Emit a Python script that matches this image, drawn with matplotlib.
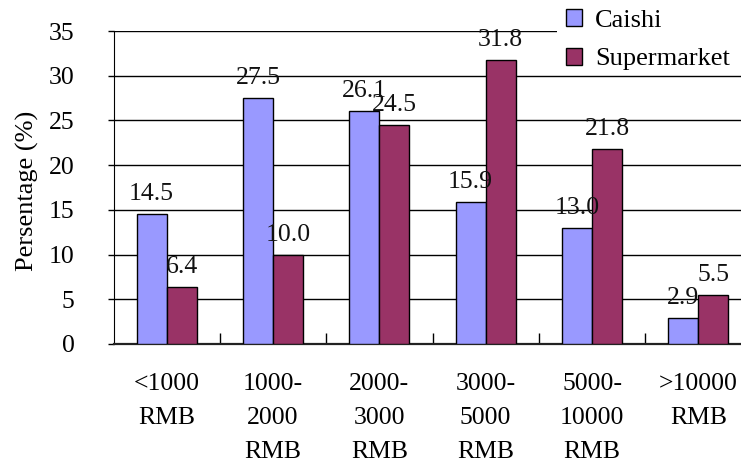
import matplotlib
matplotlib.use("Agg")
import matplotlib.pyplot as plt
import numpy as np
from matplotlib.patches import Patch, Rectangle

plt.rcParams['font.family'] = ['Liberation Serif', 'DejaVu Serif']

# Monthly income brackets and share of shoppers (%)
categories = ["<1000\nRMB", "1000-\n2000\nRMB", "2000-\n3000\nRMB",
              "3000-\n5000\nRMB", "5000-\n10000\nRMB", ">10000\nRMB"]
caishi = [14.5, 27.5, 26.1, 15.9, 13.0, 2.9]
supermarket = [6.4, 10.0, 24.5, 31.8, 21.8, 5.5]
series_names = ["Caishi", "Supermarket"]
y_ticks = [0, 5, 10, 15, 20, 25, 30, 35]

col_caishi = "#9999FF"
col_super = "#993366"
fs = 18.5

W, H = 741, 462
fig = plt.figure(figsize=(W / 100, H / 100), dpi=100)
left, right, top, bottom = 113.5, 751.5, 31, 344
ax = fig.add_axes([left / W, (H - bottom) / H, (right - left) / W, (bottom - top) / H])

x = np.arange(len(categories))
bw = 0.283
b1 = ax.bar(x - bw / 2, caishi, bw, color=col_caishi, edgecolor="black", linewidth=1, zorder=3)
b2 = ax.bar(x + bw / 2, supermarket, bw, color=col_super, edgecolor="black", linewidth=1, zorder=3)

for bars, vals in ((b1, caishi), (b2, supermarket)):
    for rect, v in zip(bars, vals):
        ax.annotate(f"{v:.1f}", (rect.get_x() + rect.get_width() / 2, v),
                    xytext=(0, 10), textcoords="offset points",
                    ha="center", va="baseline", fontsize=fs, color="#111111", zorder=5)

ax.set_xlim(-0.5, len(categories) - 0.5)
ax.set_ylim(0, 35)
ax.set_yticks(y_ticks)
ax.set_yticklabels([str(t) for t in y_ticks], fontsize=fs)
ax.tick_params(axis="y", direction="out", length=4, width=1, pad=24)

ax.set_xticks(x)
ax.set_xticklabels(categories, fontsize=fs, linespacing=1.7)
ax.tick_params(axis="x", which="major", length=0, pad=21)
ax.set_xticks(np.arange(len(categories)) + 0.5, minor=True)
ax.tick_params(axis="x", which="minor", direction="in", length=8, width=1, color="black")

ax.yaxis.grid(True, color="black", linewidth=1, zorder=0)
ax.set_axisbelow(True)
for s in ("top", "right"):
    ax.spines[s].set_visible(False)
ax.spines["left"].set_color("black")
ax.spines["bottom"].set_color("#222222")
ax.spines["bottom"].set_linewidth(1.6)

ax.set_ylabel("Persentage (%)", fontsize=fs + 0.5)
ax.yaxis.set_label_coords(-74 / (right - left), 0.49)

# white legend panel in the top-right corner
fig.patches.append(Rectangle((557 / W, 1 - 70 / H), (W - 557) / W, 70 / H,
                             transform=fig.transFigure, facecolor="white",
                             edgecolor="none", zorder=2))

handles = [Patch(facecolor=col_caishi, edgecolor="black"),
           Patch(facecolor=col_super, edgecolor="black")]
leg = fig.legend(handles, series_names, loc="upper left",
                 bbox_to_anchor=(557 / W, 1.0), frameon=False, fontsize=fs + 0.5,
                 handlelength=0.6, handleheight=0.6, handletextpad=0.5,
                 labelspacing=0.6, borderpad=0.35, borderaxespad=0)
leg.set_zorder(3)

fig.savefig("out.png", dpi=100)
